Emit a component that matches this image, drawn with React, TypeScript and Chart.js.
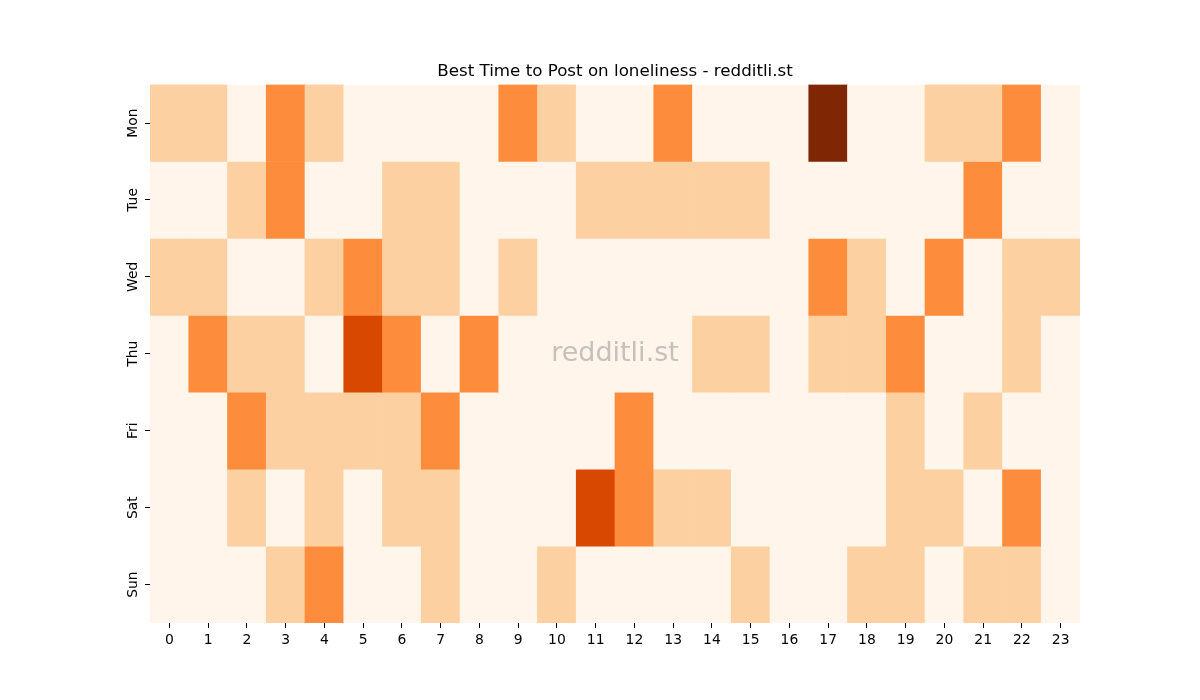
import React, { useEffect, useRef } from "react";
import { Chart, registerables } from "chart.js";

Chart.register(...registerables);

const days = ["Mon", "Tue", "Wed", "Thu", "Fri", "Sat", "Sun"];
const hours = Array.from({ length: 24 }, (_, i) => String(i));

const mon = [1, 1, 0, 2, 1, 0, 0, 0, 0, 2, 1, 0, 0, 2, 0, 0, 0, 4, 0, 0, 1, 1, 2, 0];
const tue = [0, 0, 1, 2, 0, 0, 1, 1, 0, 0, 0, 1, 1, 1, 1, 1, 0, 0, 0, 0, 0, 2, 0, 0];
const wed = [1, 1, 0, 0, 1, 2, 1, 1, 0, 1, 0, 0, 0, 0, 0, 0, 0, 2, 1, 0, 2, 0, 1, 1];
const thu = [0, 2, 1, 1, 0, 3, 2, 0, 2, 0, 0, 0, 0, 0, 1, 1, 0, 1, 1, 2, 0, 0, 1, 0];
const fri = [0, 0, 2, 1, 1, 1, 1, 2, 0, 0, 0, 0, 2, 0, 0, 0, 0, 0, 0, 1, 0, 1, 0, 0];
const sat = [0, 0, 1, 0, 1, 0, 1, 1, 0, 0, 0, 3, 2, 1, 1, 0, 0, 0, 0, 1, 1, 0, 2, 0];
const sun = [0, 0, 0, 1, 2, 0, 0, 1, 0, 0, 1, 0, 0, 0, 0, 1, 0, 0, 1, 1, 0, 1, 1, 0];

const rows = [mon, tue, wed, thu, fri, sat, sun];

const palette = ["#fff5eb", "#fdd0a2", "#fd8d3c", "#d94801", "#7f2704"];

const titleText = "Best Time to Post on loneliness - redditli.st";
const watermark = "redditli.st";

const FONT = "'DejaVu Sans', sans-serif";

export default function App() {
  const ref = useRef<HTMLCanvasElement | null>(null);

  useEffect(() => {
    document.body.style.margin = "0";
    const canvas = ref.current;
    if (!canvas) return;

    const centerTitlePlugin = {
      id: "centerTitle",
      afterLayout(chart: any) {
        const tb = chart.titleBlock;
        if (tb) {
          tb.left = chart.chartArea.left;
          tb.right = chart.chartArea.right;
        }
      },
    };

    const watermarkPlugin = {
      id: "watermark",
      afterDatasetsDraw(chart: any) {
        const { ctx, chartArea } = chart;
        ctx.save();
        ctx.font = `27px ${FONT}`;
        ctx.fillStyle = "rgba(128,128,128,0.45)";
        ctx.textAlign = "center";
        ctx.textBaseline = "middle";
        ctx.fillText(
          watermark,
          (chartArea.left + chartArea.right) / 2,
          (chartArea.top + chartArea.bottom) / 2
        );
        ctx.restore();
      },
    };

    const datasets = rows.map((row, r) => ({
      label: days[r],
      data: row.map(() => [r, r + 1]),
      backgroundColor: row.map((v) => palette[v]),
      borderWidth: 0,
      borderSkipped: false,
      barPercentage: 1,
      categoryPercentage: 1,
      grouped: false,
    }));

    const chart = new Chart(canvas, {
      type: "bar",
      data: { labels: hours, datasets: datasets as any },
      plugins: [centerTitlePlugin, watermarkPlugin],
      options: {
        animation: false,
        responsive: false,
        maintainAspectRatio: false,
        layout: { padding: { left: 0, right: 120, top: 0, bottom: 0 } },
        plugins: {
          legend: { display: false },
          tooltip: { enabled: false },
          title: {
            display: true,
            text: titleText,
            color: "#000",
            font: { family: FONT, size: 16.7, weight: "normal" },
            padding: { top: 62, bottom: 2.5 },
          },
        },
        scales: {
          x: {
            type: "category",
            offset: true,
            grid: {
              offset: false,
              drawOnChartArea: false,
              tickLength: 5,
              color: "#000",
              lineWidth: 1,
            },
            border: { display: false },
            ticks: {
              color: "#000",
              font: { family: FONT, size: 13.9 },
              padding: 4,
              maxRotation: 0,
              autoSkip: false,
            },
            afterFit(scale: any) {
              scale.height = 77;
            },
          },
          y: {
            type: "linear",
            min: 0,
            max: 7,
            reverse: true,
            grid: {
              drawOnChartArea: false,
              tickLength: 5,
              color: "#000",
              lineWidth: 1,
            },
            border: { display: false },
            afterBuildTicks(scale: any) {
              scale.ticks = days.map((_, i) => ({ value: i + 0.5 }));
            },
            ticks: {
              color: "#000",
              font: { family: FONT, size: 13.9 },
              minRotation: 90,
              maxRotation: 90,
              crossAlign: "center",
              padding: -4,
              callback: (value: any) => days[Math.floor(Number(value))] ?? "",
            },
            afterFit(scale: any) {
              scale.width = 150;
            },
          },
        },
      } as any,
    });

    return () => chart.destroy();
  }, []);

  return (
    <div style={{ width: 1200, height: 700, background: "#fff" }}>
      <canvas ref={ref} width={1200} height={700} style={{ display: "block" }} />
    </div>
  );
}
